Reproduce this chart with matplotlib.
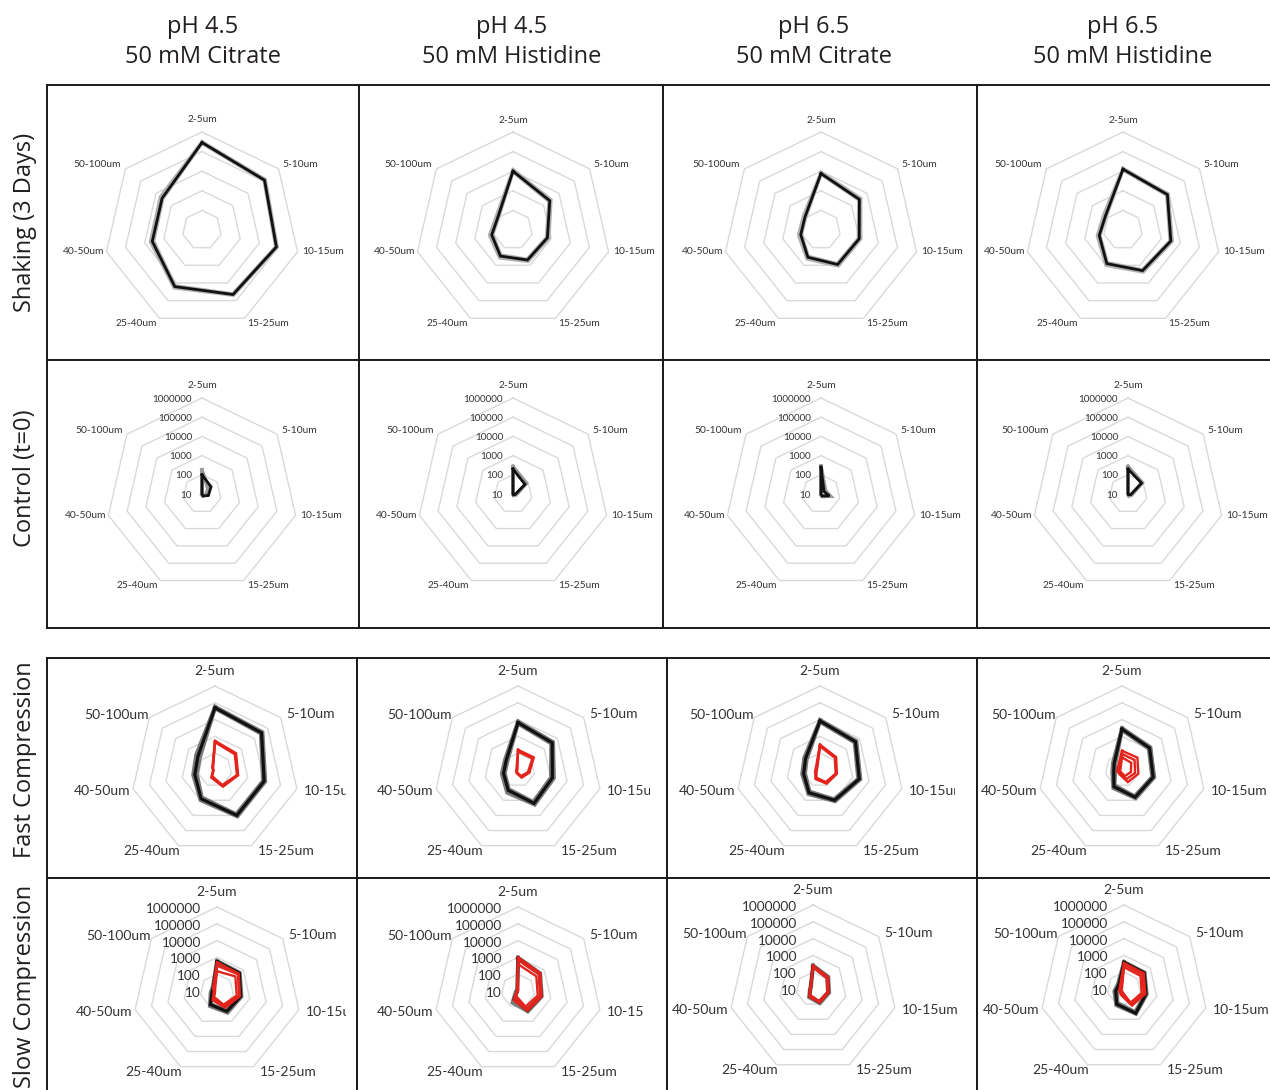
import numpy as np
import matplotlib
matplotlib.use("Agg")
import matplotlib.pyplot as plt
from matplotlib.transforms import Bbox, TransformedBbox

# ---------------------------------------------------------------- data
categories = ["2-5um", "5-10um", "10-15um", "15-25um", "25-40um", "40-50um", "50-100um"]
column_titles = [("pH 4.5", "50 mM Citrate"), ("pH 4.5", "50 mM Histidine"),
                 ("pH 6.5", "50 mM Citrate"), ("pH 6.5", "50 mM Histidine")]
row_titles = ["Shaking (3 Days)", "Control (t=0)", "Fast Compression", "Slow Compression"]
ring_ticks = [10, 100, 1000, 10000, 100000, 1000000]

# particle counts per size bin, one entry per buffer column
shaking_black = [
    [290000, 120000, 78000, 45000, 16000, 4000, 4000],
    [10000, 2500, 630, 500, 300, 130, 100],
    [7600, 3200, 1000, 900, 350, 115, 112],
    [12600, 7900, 3200, 2000, 800, 175, 140],
]
shaking_gray = [
    [[320000, 135000, 86000, 50000, 19000, 5000, 5200], [265000, 112000, 72000, 41000, 14500, 3400, 3600]],
    [[12000, 3000, 760, 600, 380, 170, 125], [9000, 2200, 560, 450, 260, 115, 90]],
    [[8800, 3900, 1200, 1100, 440, 150, 140], [7000, 2900, 900, 800, 310, 105, 100]],
    [[14000, 8900, 3800, 2400, 1000, 220, 180], [11500, 7200, 2900, 1800, 700, 160, 125]],
]

control_black = [
    [100, 40, 22, 13, 10, 10, 10],
    [200, 63, 13, 11, 10, 10, 10],
    [250, 16, 28, 13, 10, 10, 10],
    [200, 80, 14, 11, 10, 10, 10],
]
control_gray = [
    [[180, 25, 16, 13, 11, 10, 10], [150, 30, 18, 12, 10, 10, 10]],
    [[270, 80, 14, 12, 10, 10, 10], [230, 70, 15, 12, 10, 10, 10]],
    [[280, 18, 32, 14, 11, 10, 10], [260, 20, 30, 12, 10, 10, 10]],
    [[270, 90, 16, 13, 10, 10, 10], [240, 85, 15, 12, 10, 10, 10]],
]

fast_black = [
    [51000, 35000, 10000, 10000, 800, 170, 200],
    [6600, 4000, 1260, 1600, 220, 76, 80],
    [8300, 5000, 2500, 1000, 320, 100, 126],
    [2700, 1260, 800, 630, 126, 32, 40],
]
fast_gray = [
    [[60000, 42000, 12000, 12000, 1000, 220, 280], [45000, 30000, 8300, 8000, 630, 125, 140],
     [55000, 38000, 11000, 11000, 900, 200, 240]],
    [[7900, 4800, 1600, 2000, 320, 100, 100], [5600, 3300, 1000, 1260, 180, 63, 63],
     [7200, 4400, 1400, 1800, 260, 90, 90]],
    [[9800, 6000, 3000, 1200, 400, 126, 160], [7000, 4200, 2100, 830, 260, 80, 100],
     [9000, 5500, 2800, 1100, 360, 110, 140]],
    [[3200, 1500, 950, 760, 160, 40, 50], [2300, 1060, 680, 530, 100, 26, 32],
     [3000, 1400, 880, 700, 140, 36, 45]],
]
fast_red = [
    [[540, 400, 260, 126, 32, 13, 16], [450, 320, 220, 100, 25, 13, 14], [500, 360, 240, 112, 28, 12, 15]],
    [[160, 160, 50, 32, 16, 13, 13], [126, 126, 40, 25, 14, 11, 11]],
    [[320, 170, 107, 80, 40, 20, 20], [260, 140, 90, 63, 32, 16, 16], [290, 155, 98, 70, 36, 18, 18]],
    [[140, 150, 100, 63, 20, 20, 20], [90, 90, 63, 40, 16, 16, 16], [56, 50, 35, 25, 14, 13, 13]],
]

slow_black = [
    [560, 500, 280, 220, 80, 20, 20],
    [900, 450, 260, 190, 35, 11, 11],
    [230, 130, 85, 75, 30, 15, 15],
    [380, 350, 220, 400, 100, 32, 25],
]
slow_gray = [
    [[630, 560, 320, 280, 100, 25, 22], [500, 460, 250, 200, 70, 18, 18]],
    [[1000, 500, 290, 230, 60, 14, 12], [800, 420, 240, 170, 30, 11, 11]],
    [[260, 150, 100, 90, 36, 16, 16], [210, 120, 80, 70, 28, 14, 14]],
    [[420, 380, 250, 450, 120, 40, 30], [340, 320, 200, 320, 80, 25, 20]],
]
slow_red = [
    [[520, 450, 250, 126, 40, 16, 20], [320, 400, 220, 100, 32, 14, 16], [150, 250, 160, 80, 25, 13, 14]],
    [[1000, 500, 280, 200, 40, 12, 12], [700, 400, 230, 160, 30, 11, 11], [400, 250, 160, 110, 20, 10, 10]],
    [[250, 140, 90, 80, 32, 16, 16], [200, 110, 75, 65, 25, 14, 14]],
    [[350, 320, 200, 126, 25, 20, 20], [280, 250, 160, 100, 20, 16, 16], [200, 180, 120, 80, 16, 14, 14]],
]

rows = [
    dict(black=shaking_black, gray=shaking_gray, red=None),
    dict(black=control_black, gray=control_gray, red=None),
    dict(black=fast_black, gray=fast_gray, red=fast_red),
    dict(black=slow_black, gray=slow_gray, red=slow_red),
]

# ---------------------------------------------------------------- layout (pixels)
W, H = 1270, 1090
plt.rcParams['font.family'] = ['Lato', 'DejaVu Sans']
fig = plt.figure(figsize=(W / 100, H / 100), dpi=100)
fig.patch.set_facecolor('white')


def box(x0, y0, x1, y1):
    return [x0 / W, 1 - y1 / H, (x1 - x0) / W, (y1 - y0) / H]


cell_rows = [(85, 360), (360, 628), (658, 878), (878, 1100)]
cell_cols = [[(47, 359), (359, 663), (663, 977), (977, 1290)],
             [(47, 359), (359, 663), (663, 977), (977, 1290)],
             [(47, 357), (357, 667), (667, 977), (977, 1290)],
             [(47, 357), (357, 667), (667, 977), (977, 1290)]]

centers = [
    [(202, 230), (513, 230), (821, 230), (1123, 230)],
    [(202, 494), (513, 494), (821, 494), (1128, 494)],
    [(215, 770), (518, 770), (820, 770), (1122, 770)],
    [(217, 991), (518, 991), (813, 989), (1124, 989)],
]
radius = [98, 96, 84, 84]
label_clip_right = [
    [359, 663, 977, 1290],
    [359, 663, 977, 1290],
    [346, 650, 955, 1290],
    [346, 644, 977, 1290],
]

small_offsets = [(0, -12, 'center'), (4, -4, 'left'), (5, 0, 'left'), (3, 5, 'left'),
                 (-2, 5, 'right'), (-2, 0, 'right'), (-4, -4, 'right')]
large_offsets = [(0, -15, 'center'), (6, -4, 'left'), (7, 2, 'left'), (6, 5, 'left'),
                 (1, 5, 'right'), (-3, 2, 'right'), (-1, -3, 'right')]
row_style = [
    dict(offsets=small_offsets, fs=7.4, ring_labels=False, black_lw=2.0, gray_lw=2.4, gray='#b0b0b0'),
    dict(offsets=small_offsets, fs=7.4, ring_labels=True, ring_fs=7.1, ring_dx=-10, ring_dy=1,
         black_lw=2.0, gray_lw=2.6, gray='#9a9a9a'),
    dict(offsets=large_offsets, fs=10.0, ring_labels=False, black_lw=2.3, gray_lw=2.6, gray='#7a7a7a'),
    dict(offsets=large_offsets, fs=10.0, ring_labels=True, ring_fs=9.8, ring_dx=-16, ring_dy=2,
         black_lw=2.3, gray_lw=2.6, gray='#7a7a7a'),
]

GRID = '#d9d9d9'
BLACK = '#111111'
RED = '#e3241d'
LABEL = '#333333'
TITLE_FONT = ['Open Sans', 'DejaVu Sans']

theta = np.arange(len(categories)) * 2 * np.pi / len(categories)
theta_closed = np.append(theta, theta[0])


def closed(vals):
    v = list(vals)
    return v + v[:1]


# ---------------------------------------------------------------- cells and radars
for ri in range(4):
    y0, y1 = cell_rows[ri]
    style = row_style[ri]
    for ci in range(4):
        x0, x1 = cell_cols[ri][ci]
        cell = fig.add_axes(box(x0, y0, x1, y1), zorder=0)
        cell.set_xticks([])
        cell.set_yticks([])
        for sp in cell.spines.values():
            sp.set_linewidth(1.4)
            sp.set_color('#1a1a1a')

        cx, cy = centers[ri][ci]
        R = radius[ri]
        ax = fig.add_axes(box(cx - R, cy - R, cx + R, cy + R), projection='polar', zorder=1)
        ax.set_theta_zero_location('N')
        ax.set_theta_direction(-1)
        ax.set_rscale('log')
        ax.set_rlim(ring_ticks[0], ring_ticks[-1])
        ax.grid(False)
        ax.set_xticks([])
        ax.set_yticks([])
        ax.spines['polar'].set_visible(False)
        ax.patch.set_alpha(0)

        for level in ring_ticks[1:]:
            ax.plot(theta_closed, [level] * len(theta_closed), color=GRID, lw=1.0,
                    clip_on=False, zorder=1)

        data = rows[ri]
        for series in data['gray'][ci]:
            ax.plot(theta_closed, closed(series), color=style['gray'], lw=style['gray_lw'],
                    clip_on=False, solid_joinstyle='miter', zorder=2)
        ax.plot(theta_closed, closed(data['black'][ci]), color=BLACK, lw=style['black_lw'],
                clip_on=False, solid_joinstyle='miter', zorder=3)
        if data['red'] is not None:
            for series in data['red'][ci]:
                ax.plot(theta_closed, closed(series), color=RED, lw=1.7, clip_on=False,
                        solid_joinstyle='miter', zorder=4)

        clip = TransformedBbox(Bbox.from_extents(x0 / W, 1 - y1 / H,
                                                 label_clip_right[ri][ci] / W, 1 - y0 / H),
                               fig.transFigure)
        for k, name in enumerate(categories):
            dx, dy, ha = style['offsets'][k]
            t = ax.annotate(name, xy=(theta[k], ring_ticks[-1]), xycoords='data',
                            xytext=(dx, -dy), textcoords='offset pixels',
                            ha=ha, va='center', fontsize=style['fs'], color=LABEL)
            t.set_clip_box(clip)
            t.set_clip_on(True)
        if style['ring_labels']:
            for level in ring_ticks:
                ax.annotate(f"{level}", xy=(0, level), xycoords='data',
                            xytext=(style['ring_dx'], -style['ring_dy']),
                            textcoords='offset pixels', ha='right', va='center',
                            fontsize=style['ring_fs'], color=LABEL)

# ---------------------------------------------------------------- titles
title_x = [203, 512, 814, 1123]
for ci, (l1, l2) in enumerate(column_titles):
    fig.text(title_x[ci] / W, 1 - 27 / H, l1, ha='center', va='center', fontsize=17,
             color='#231f20', family=TITLE_FONT)
    fig.text(title_x[ci] / W, 1 - 57 / H, l2, ha='center', va='center', fontsize=17,
             color='#231f20', family=TITLE_FONT)

row_title_y = [222, 478, 760, 986]
for ri, name in enumerate(row_titles):
    fig.text(25 / W, 1 - row_title_y[ri] / H, name, ha='center', va='center', rotation=90,
             fontsize=17, color='#231f20', family=TITLE_FONT)

fig.savefig('out.png', dpi=100, facecolor='white')
